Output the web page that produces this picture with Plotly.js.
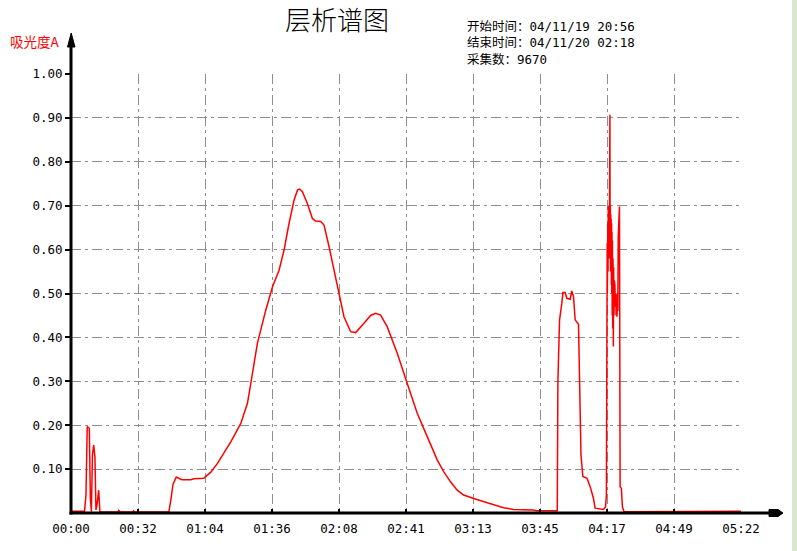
<!DOCTYPE html>
<html>
<head>
<meta charset="utf-8">
<script src="https://cdn.plot.ly/plotly-3.0.1.min.js"></script>
<style>
html,body{margin:0;padding:0;background:#fff;}
#chart{width:797px;height:551px;}
</style>
</head>
<body>
<div id="chart"></div>
<script>
// ---- data (time in minutes since start, absorbance A) ----
const timeMin = [
  0.0, 6.5, 7.2, 7.8, 8.8, 9.3, 9.8, 10.3, 10.9, 11.5, 12.0, 12.5, 13.3, 13.9, 14.4,
  22.5, 23.0, 23.6, 29.5, 30.0, 30.6, 47.0, 48.0, 49.0, 50.6, 51.8, 53.3, 57.6, 59.0, 63.8,
  67.2, 70.4, 73.4, 76.8, 81.6, 84.8, 86.4, 89.6, 93.6, 96.8, 100.0, 102.4, 104.8, 107.2,
  108.9, 109.9, 111.2, 113.6, 116.0, 117.6, 120.0, 121.6, 124.0, 126.4, 128.8, 131.2,
  134.4, 136.8, 140.8, 144.0, 146.4, 148.8, 152.0, 156.8, 161.6, 166.4, 171.2, 176.0,
  179.1, 182.4, 185.6, 188.7, 193.5, 198.3, 203.1, 207.9, 212.7, 222.3, 223.9, 233.7,
  234.0, 234.8, 235.9, 236.4, 237.5, 238.3, 239.9, 240.7, 241.5, 242.3, 243.9, 244.4,
  245.1, 246.0, 248.0, 249.5, 251.1, 251.9, 255.9, 256.9, 257.3,
  257.7, 257.75, 257.8, 257.9, 258.0, 258.1, 258.2, 258.3, 258.4, 258.5, 258.6, 258.7, 258.8,
  259.0, 259.1, 259.2, 259.3, 259.4, 259.5, 259.6, 259.7, 259.8, 259.9, 260.0, 260.1, 260.2,
  260.35, 260.5, 260.65, 260.8, 260.95, 261.1, 261.25, 261.4, 261.6, 261.8, 262.0, 262.2,
  262.4, 262.6, 262.8, 263.0, 263.3, 263.6, 263.9, 264.5, 265.0, 265.8, 322.0
];
const absorbance = [
  0.004, 0.004, 0.041, 0.197, 0.193, 0.033, 0.003, 0.132, 0.155, 0.128, 0.007, 0.018, 0.052, 0.003, 0.002,
  0.002, 0.006, 0.002, 0.002, 0.005, 0.002, 0.002, 0.030, 0.065, 0.082, 0.080, 0.076, 0.076, 0.078, 0.079,
  0.093, 0.113, 0.135, 0.162, 0.204, 0.250, 0.295, 0.387, 0.462, 0.515, 0.553, 0.599, 0.660, 0.713,
  0.736, 0.738, 0.732, 0.705, 0.671, 0.665, 0.664, 0.656, 0.607, 0.553, 0.500, 0.447,
  0.413, 0.411, 0.432, 0.450, 0.455, 0.451, 0.424, 0.364, 0.295, 0.227, 0.174, 0.121,
  0.094, 0.071, 0.052, 0.041, 0.033, 0.026, 0.018, 0.012, 0.008, 0.007, 0.005, 0.005,
  0.299, 0.440, 0.478, 0.502, 0.502, 0.489, 0.487, 0.506, 0.493, 0.440, 0.430, 0.310,
  0.132, 0.083, 0.079, 0.060, 0.033, 0.011, 0.008, 0.014, 0.041,
  0.615, 0.500, 0.630, 0.520, 0.660, 0.550, 0.700, 0.560, 0.690, 0.600, 0.720, 0.580, 0.640,
  0.907, 0.600, 0.700, 0.550, 0.680, 0.580, 0.670, 0.520, 0.660, 0.500, 0.640, 0.450, 0.620,
  0.420, 0.580, 0.379, 0.560, 0.450, 0.530, 0.460, 0.520, 0.470, 0.500, 0.450, 0.490,
  0.447, 0.500, 0.460, 0.630, 0.690, 0.698, 0.060, 0.056, 0.014, 0.003, 0.004
];
const xTickLabels = ["00:00","00:32","01:04","01:36","02:08","02:41","03:13","03:45","04:17","04:49","05:22"];
const yTickValues = [0.1,0.2,0.3,0.4,0.5,0.6,0.7,0.8,0.9,1.0];
const yTickLabels = ["0.10","0.20","0.30","0.40","0.50","0.60","0.70","0.80","0.90","1.00"];
const chartTitle = "层析谱图";
const yAxisLabel = "吸光度A";
const infoLines = ["开始时间：04/11/19 20:56", "结束时间：04/11/20 02:18", "采集数：9670"];
const totalMinutes = 322;

// ---- layout helpers ----
const W = 797, H = 551;
const M = {l: 71, r: 56, t: 74, b: 38};
const PW = W - M.l - M.r, PH = H - M.t - M.b;
const px = v => (v - M.l) / PW;           // pixel x -> paper x
const py = v => (H - M.b - v) / PH;        // pixel y -> paper y

const xTickVals = xTickLabels.map((_, i) => i * totalMinutes / (xTickLabels.length - 1));
const gridDash = "10px,4px,3px,4px";
const tickFont = {family: "DejaVu Sans Mono, Liberation Mono, monospace", size: 12.5, color: "#000"};
const cjk = "Noto Sans CJK SC, Noto Sans, sans-serif";
const mixed = "DejaVu Sans Mono, Noto Sans CJK SC, monospace";

const trace = {
  x: timeMin, y: absorbance, type: "scatter", mode: "lines",
  line: {color: "#ff0000", width: 1.5}, hoverinfo: "skip"
};

const shapes = [
  {type: "rect", xref: "paper", yref: "paper", x0: px(792), x1: px(800), y0: py(555), y1: py(-5),
   fillcolor: "#d7e7d1", line: {width: 0}, layer: "below"},
  {type: "line", xref: "paper", yref: "paper", x0: px(71), x1: px(71), y0: py(514.5), y1: py(44),
   line: {color: "#000", width: 3}, layer: "above"},
  {type: "path", xref: "paper", yref: "paper",
   path: `M ${px(67.5)},${py(47)} L ${px(71.2)},${py(33)} L ${px(75)},${py(47)} Z`,
   fillcolor: "#000", line: {color: "#000", width: 1}, layer: "above"},
  {type: "line", xref: "paper", yref: "paper", x0: px(69.5), x1: px(772), y0: py(513), y1: py(513),
   line: {color: "#000", width: 3}, layer: "above"},
  {type: "path", xref: "paper", yref: "paper",
   path: `M ${px(769)},${py(509.5)} L ${px(778)},${py(509.5)} L ${px(783)},${py(513)} L ${px(778)},${py(516.5)} L ${px(769)},${py(516.5)} Z`,
   fillcolor: "#000", line: {color: "#000", width: 1}, layer: "above"}
];

const annotations = [
  {text: yAxisLabel, xref: "paper", yref: "paper", x: px(8), y: py(41), xanchor: "left", yanchor: "middle",
   showarrow: false, font: {family: cjk, size: 13.5, color: "#ff0000"}},
  {text: infoLines.join("<br>"), xref: "paper", yref: "paper", x: px(466), y: py(43),
   xanchor: "left", yanchor: "middle", align: "left", showarrow: false, borderpad: 0,
   font: {family: mixed, size: 12.5, color: "#000"}}
];

const layout = {
  width: W, height: H,
  margin: M,
  paper_bgcolor: "#ffffff", plot_bgcolor: "#ffffff",
  showlegend: false,
  title: {text: chartTitle, xref: "container", x: 337 / W, xanchor: "center",
          yref: "container", y: 1 - 21 / H, yanchor: "middle",
          font: {family: cjk, size: 26, color: "#000", weight: 300}},
  xaxis: {
    range: [0, totalMinutes], tickmode: "array", tickvals: xTickVals, ticktext: xTickLabels,
    ticks: "inside", ticklen: 4, tickwidth: 2, tickcolor: "#000", ticklabelstandoff: 6,
    showgrid: true, gridcolor: "#8e8e8e", gridwidth: 1, griddash: gridDash,
    zeroline: false, showline: false, tickfont: tickFont, fixedrange: true
  },
  yaxis: {
    range: [0, 1], tickmode: "array", tickvals: yTickValues, ticktext: yTickLabels,
    ticks: "outside", ticklen: 5, tickwidth: 2, tickcolor: "#000",
    showgrid: true, gridcolor: "#8e8e8e", gridwidth: 1, griddash: gridDash,
    zeroline: false, showline: false, tickfont: tickFont, fixedrange: true
  },
  shapes: shapes,
  annotations: annotations
};

Plotly.newPlot("chart", [trace], layout, {displayModeBar: false, staticPlot: true});
</script>
</body>
</html>
